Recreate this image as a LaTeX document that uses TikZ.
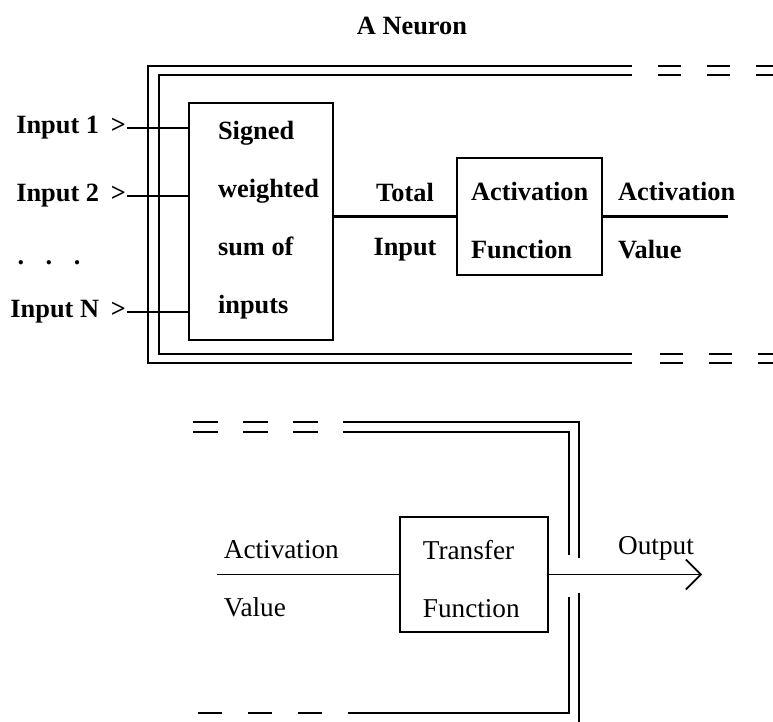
\documentclass[tikz,border=0pt]{standalone}
\usepackage{fontspec}
\setmainfont{Liberation Serif}
\usetikzlibrary{arrows.meta, positioning}

\begin{document}
\begin{tikzpicture}[x=0.02cm, y=-0.02cm, line width=1.2pt,
    upper/.style={font=\bfseries\fontsize{15}{33}\selectfont, inner sep=0pt, align=left},
    lower/.style={font=\fontsize{15.5}{33}\selectfont, inner sep=0pt, align=left},
    unit/.style={draw, line width=1.3pt, inner sep=0pt},
    gap/.style={dash pattern=on 0.46cm off 0.52cm}]
  \useasboundingbox (0,0) rectangle (773,722);
  \clip (0,0) rectangle (773,722);
  \node[upper] (title) at (412,26) {A Neuron};

  \draw (632,66) -- (148,66) -- (148,363) -- (632,363);
  \draw (632,75) -- (159,75) -- (159,354) -- (632,354);
  \foreach \y in {66,75} \draw[gap] (658,\y) -- (800,\y);
  \foreach \y in {354,363} \draw[gap] (660,\y) -- (800,\y);

  \node[unit, minimum width=2.88cm, minimum height=4.74cm] (sum) at (261,221.5) {};
  \node[upper, anchor=west] (sumtext) at (217,220) {Signed\\weighted\\sum of\\inputs};
  \foreach \n/\t/\y in {1/Input 1/128, 2/Input 2/196, 3/Input N/312} {
    \node[upper, anchor=east] (in\n) at (127,\y) {\t\hspace{0.45em}>};
    \draw (in\n.east) -- (in\n.east -| sum.west);
  }
  \node[upper] (dots) at (49,263) {.\hspace{0.43cm}.\hspace{0.43cm}.};

  \node[upper] (tot) at (405,192) {Total};
  \node[upper] (totin) at (405,250) {Input};
  \node[unit, minimum width=2.9cm, minimum height=2.34cm] (act) at (529.5,216.5) {};
  \node[upper, anchor=west] (acttext) at (470,221) {Activation\\Function};
  \draw (sum.east |- act.west) -- (act.west);
  \coordinate (actout) at (728,216.5);
  \draw (act.east) -- (actout);
  \node[upper, anchor=west] (actval) at (617,221) {Activation\\Value};

  \begin{scope}[line width=1pt]
    \foreach \y in {422,432} \draw[dash pattern=on 0.5cm off 0.5cm] (193,\y) -- (343,\y);
    \draw[dash pattern=on 0.48cm off 0.52cm] (198,713) -- (348,713);
    \draw (343,422) -- (579,422) -- (579,558);
    \draw (579,593) -- (579,740);
    \draw (343,432) -- (569,432) -- (569,555);
    \draw (569,597) -- (569,713) -- (348,713);

    \node[unit, line width=1.1pt, minimum width=2.96cm, minimum height=2.3cm] (tr) at (474,574.5) {};
    \node[lower, anchor=west] (trtext) at (422,579) {Transfer\\Function};
    \coordinate (avin) at (217,574.5);
    \draw (avin) -- (tr.west);
    \node[lower, anchor=west] (avtext) at (223,579) {Activation\\Value};
    \coordinate (out) at (702,574.5);
    \draw[-{Straight Barb[length=0.3cm, width=0.6cm]}] (tr.east) -- (out);
    \node[lower] (outtext) at (656,548) {Output};
  \end{scope}
\end{tikzpicture}
\end{document}
